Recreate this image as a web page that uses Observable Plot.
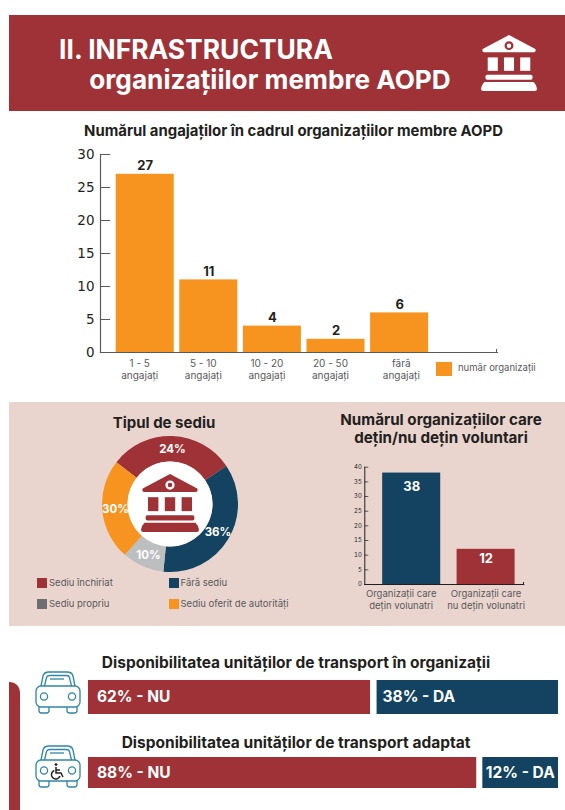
<!DOCTYPE html>
<html lang="ro">
<head>
<meta charset="utf-8">
<script src="https://cdn.jsdelivr.net/npm/d3@7"></script>
<script src="https://cdn.jsdelivr.net/npm/@observablehq/plot@0.6"></script>
<style>
html,body{margin:0;padding:0;background:#fff}
#page{position:relative;width:565px;height:810px;overflow:hidden;font-family:Inter,"Liberation Sans",sans-serif;color:#231f20}
.abs{position:absolute}
.t{position:absolute;white-space:nowrap;font-weight:700;transform:translate(-50%,-50%);line-height:1}
.leg{position:absolute;white-space:nowrap;font-size:9.5px;color:#58595b;transform:translateY(-50%);line-height:1}
.sw{position:absolute}
</style>
</head>
<body>
<div id="page">
  <svg width="0" height="0" style="position:absolute">
    <symbol id="bank" viewBox="0 0 100 100">
      <path fill-rule="evenodd" d="M50 0 L97 25 Q99 30 95 31 L5 31 Q1 30 3 25 Z M50 11 A8 8 0 1 0 50 27 A8 8 0 1 0 50 11 Z M50 15 A4 4 0 1 1 50 23 A4 4 0 1 1 50 15 Z"/>
      <rect x="12" y="40" width="18" height="24"/><rect x="41" y="40" width="18" height="24"/><rect x="70" y="40" width="18" height="24"/>
      <rect x="8" y="71" width="84" height="9" rx="3"/>
      <path d="M6 84 H94 Q100 90 100 96 Q100 100 96 100 H4 Q0 100 0 96 Q0 90 6 84 Z"/>
    </symbol>
    <symbol id="car" viewBox="0 0 46 43">
      <g fill="none" stroke="#2f86a6" stroke-width="1.3">
        <path d="M6 15 L8 5 Q9 1 14 1 L32 1 Q37 1 38 5 L40 15"/>
        <path d="M9.5 15 L11.5 6.5 Q12 4.5 14.5 4.5 L31.5 4.5 Q34 4.5 34.5 6.5 L36.5 15"/>
        <path d="M15 8 H29"/>
        <rect x="1" y="15" width="44" height="21" rx="5"/>
        <circle cx="9" cy="25.5" r="3.6"/><circle cx="37" cy="25.5" r="3.6"/>
        <path d="M4 36 V39.5 Q4 42 6.5 42 H11.5 Q14 42 14 39.5 V36"/>
        <path d="M32 36 V39.5 Q32 42 34.5 42 H39.5 Q42 42 42 39.5 V36"/>
      </g>
    </symbol>
  </svg>

  <div class="abs" style="left:9px;top:15px;width:556px;height:96px;background:#9e3237"></div>
  <div class="t" style="left:196px;top:49px;font-size:26.4px;color:#fff">II. INFRASTRUCTURA</div>
  <div class="t" style="left:270px;top:80px;font-size:26.2px;color:#fff">organizațiilor membre AOPD</div>
  <svg class="abs" style="left:481px;top:35px;fill:#fff" width="56" height="56"><use href="#bank"/></svg>

  <div class="t" style="left:293.5px;top:131px;font-size:14.9px">Numărul angajaților în cadrul organizațiilor membre AOPD</div>

  <div class="abs" style="left:9px;top:402px;width:556px;height:224px;background:#ead5ce"></div>
  <div class="t" style="left:164px;top:422px;font-size:15px">Tipul de sediu</div>
  <div class="t" style="left:441px;top:420px;font-size:15.2px">Numărul organizațiilor care</div>
  <div class="t" style="left:441px;top:438px;font-size:15.2px">dețin/nu dețin voluntari</div>

  <div class="t" style="left:296px;top:663px;font-size:15.5px">Disponibilitatea unităților de transport în organizații</div>
  <div class="t" style="left:296px;top:743px;font-size:15.5px">Disponibilitatea unităților de transport adaptat</div>

  <div class="abs" style="left:9px;top:682px;width:11px;height:128px;background:#9e3237;border-top-right-radius:10px"></div>
  <svg class="abs" style="left:35px;top:671px" width="46" height="43"><use href="#car"/></svg>
  <svg class="abs" style="left:35px;top:745px" width="46" height="43"><use href="#car"/>
    <g fill="none" stroke="#231f20" stroke-width="1.5" transform="translate(16,18)">
      <circle cx="5" cy="1.6" r="1.4" fill="#231f20" stroke="none"/>
      <path d="M5 4 V10 H10 L12 14"/><path d="M5 7 H9"/>
      <path d="M3.3 7.5 A4.4 4.4 0 1 0 9 13"/>
    </g>
  </svg>
</div>
<script>
// ---- data ----
const employeeCategories = ["1 - 5\nangajați", "5 - 10\nangajați", "10 - 20\nangajați", "20 - 50\nangajați", "fără\nangajați"];
const employeeCounts = [27, 11, 4, 2, 6];
const employeeTicks = [0, 5, 10, 15, 20, 25, 30];

const officeTypes = ["Sediu închiriat", "Fără sediu", "Sediu propriu", "Sediu oferit de autorități"];
const officeSweep = [30, 36, 10, 24];            // drawn size of each slice
const officeLabels = ["24%", "36%", "10%", "30%"]; // printed on each slice
const officeColors = ["#9e3237", "#134361", "#bcbec0", "#f7941f"];
const officeLegendColors = ["#9e3237", "#134361", "#6d6e71", "#f7941f"];

const volunteerCategories = ["Organizații care\ndețin volunatri", "Organizații care\nnu dețin volunatri"];
const volunteerCounts = [38, 12];
const volunteerTicks = [0, 5, 10, 15, 20, 25, 30, 35, 40];
const volunteerColors = ["#134361", "#9e3237"];

const transportLabels = [["62% - NU", "38% - DA"], ["88% - NU", "12% - DA"]];
const transportDrawnNo = [60, 82.6];     // drawn end of the NU bar
const transportDrawnYes = [61.4, 83.9];  // drawn start of the DA bar

// ---- helpers ----
const page = document.getElementById("page");
const ink = "#231f20", soft = "#58595b", axisInk = "#58595b", font = "Inter, 'Liberation Sans', sans-serif";
function place(svg, left, top) {
  svg.style.position = "absolute";
  svg.style.left = left + "px";
  svg.style.top = top + "px";
  svg.style.maxWidth = "none";
  page.appendChild(svg);
}
const base = {style: {background: "transparent", fontFamily: font, overflow: "visible"}};

// ---- chart 1 ----
const emp = employeeCategories.map((c, i) => ({c, v: employeeCounts[i]}));
place(Plot.plot({
  ...base, width: 565, height: 270,
  marginTop: 24, marginBottom: 48, marginLeft: 100, marginRight: 68,
  x: {domain: employeeCategories, range: [112.9, 430.9], paddingInner: 0.088, paddingOuter: 0.044, round: false, axis: null},
  y: {domain: [0, 30], axis: null},
  marks: [
    Plot.barY(emp, {x: "c", y: "v", fill: "#f7941f"}),
    Plot.axisY({ticks: employeeTicks, tickSize: -10, tickPadding: 16, stroke: axisInk, fontSize: 13.5, fontFamily: "DejaVu Sans", fill: ink, label: null}),
    Plot.frame({anchor: "left", stroke: axisInk, strokeWidth: 1.2}),
    Plot.frame({anchor: "bottom", stroke: axisInk, strokeWidth: 1.2}),
    Plot.text(emp, {x: "c", y: "v", text: d => String(d.v), dy: -8, fontSize: 13, fontWeight: 700, fill: ink}),
    Plot.text(emp.slice(0, 4), {x: "c", y: () => 0, text: "c", dx: -5.5, dy: 17, fontSize: 10, lineHeight: 1.2, fill: soft}),
    Plot.text(emp.slice(4), {x: "c", y: () => 0, text: "c", dx: 1.7, dy: 17, fontSize: 10, lineHeight: 1.2, fill: soft})
  ]
}), 0, 130);
const swatch = (l, t, w, h, c) => { const s = document.createElement("div"); s.className = "sw"; s.style.cssText = `left:${l}px;top:${t}px;width:${w}px;height:${h}px;background:${c}`; page.appendChild(s); };
const legend = (l, t, txt) => { const s = document.createElement("div"); s.className = "leg"; s.style.left = l + "px"; s.style.top = t + "px"; s.textContent = txt; page.appendChild(s); };
swatch(436, 362, 16, 14, "#f7941f");
legend(458, 368, "număr organizații");
swatch(496, 349, 1.3, 3, axisInk);

// ---- donut ----
const outerR = 68, innerR = 42.5, labelR = 55.25;
const startAngle = -52 * Math.PI / 180;
const arcs = d3.pie().sort(null).startAngle(startAngle).endAngle(startAngle + 2 * Math.PI)(officeSweep);
const slices = arcs.map((a, i) => {
  const mid = (a.startAngle + a.endAngle) / 2;
  return {name: officeTypes[i], label: officeLabels[i], a, lx: labelR * Math.sin(mid), ly: labelR * Math.cos(mid)};
});
place(Plot.plot({
  ...base, width: 140, height: 140, margin: 0,
  x: {domain: [-70, 70], range: [0, 140], axis: null},
  y: {domain: [-70, 70], range: [140, 0], axis: null},
  color: {domain: officeTypes, range: officeColors},
  marks: [
    Plot.dot(slices, {
      x: () => 0, y: () => 0, fill: "name", r: outerR,
      render(index, scales, values) {
        const unit = scales.x(1) - scales.x(0);
        const g = d3.create("svg:g");
        for (const i of index) {
          g.append("path")
            .attr("transform", `translate(${values.x[i]},${values.y[i]})`)
            .attr("fill", values.fill[i])
            .attr("d", d3.arc().innerRadius(innerR * unit).outerRadius(outerR * unit)(slices[i].a));
        }
        g.append("circle").attr("cx", scales.x(0)).attr("cy", scales.y(0)).attr("r", innerR * unit).attr("fill", "#fff");
        return g.node();
      }
    }),
    Plot.text(slices, {x: "lx", y: "ly", text: "label", fontSize: 11.5, fontWeight: 700, fill: "#fff"})
  ]
}), 100, 434);
const bankIcon = document.createElementNS("http://www.w3.org/2000/svg", "svg");
bankIcon.setAttribute("class", "abs");
bankIcon.setAttribute("width", 58); bankIcon.setAttribute("height", 58);
bankIcon.style.cssText = "left:141px;top:474px;fill:#9e3237";
bankIcon.innerHTML = '<use href="#bank"/>';
page.appendChild(bankIcon);
const legendSpots = [[37, 49, 582.7], [169, 180.5, 582.7], [37, 49, 603.7], [169, 180.5, 603.7]];
officeTypes.forEach((t, i) => {
  const [sx, tx, y] = legendSpots[i];
  swatch(sx, y - 4.7, 9.5, 9.5, officeLegendColors[i]);
  legend(tx, y, t);
});

// ---- chart 2 ----
const vol = volunteerCategories.map((c, i) => ({c, v: volunteerCounts[i]}));
place(Plot.plot({
  ...base, width: 205, height: 160,
  marginTop: 6.7, marginBottom: 36, marginLeft: 44.3, marginRight: 1.7,
  x: {domain: volunteerCategories, range: [54, 202.8], paddingInner: 0.22, paddingOuter: 0.11, round: false, axis: null},
  y: {domain: [0, 40], axis: null},
  color: {domain: volunteerCategories, range: volunteerColors},
  marks: [
    Plot.barY(vol, {x: "c", y: "v", fill: "c"}),
    Plot.axisY({ticks: volunteerTicks, tickSize: -4, tickPadding: 7, stroke: axisInk, fontSize: 6, fill: ink, label: null}),
    Plot.frame({anchor: "left", stroke: ink, strokeWidth: 1}),
    Plot.frame({anchor: "bottom", stroke: ink, strokeWidth: 1}),
    Plot.text(vol.slice(0, 1), {x: "c", y: "v", text: d => String(d.v), dy: 14, fontSize: 13, fontWeight: 700, fill: "#fff"}),
    Plot.text(vol.slice(1), {x: "c", y: "v", text: d => String(d.v), dy: 10, fontSize: 13, fontWeight: 700, fill: "#fff"}),
    Plot.text(vol.slice(0, 1), {x: "c", y: () => 0, text: "c", dx: -10.5, dy: 15, fontSize: 9.5, lineHeight: 1.2, fill: soft}),
    Plot.text(vol.slice(1), {x: "c", y: () => 0, text: "c", dy: 15, fontSize: 9.5, lineHeight: 1.2, fill: soft})
  ]
}), 320, 460);
swatch(523, 582, 1, 2, ink);

// ---- transport bars ----
const tops = [680, 757], heights = [34, 31];
const labelInsets = [[8.5, 5.5], [8.5, 3]];
transportLabels.forEach((labels, r) => {
  const parts = [
    {label: labels[0], x1: 0, x2: transportDrawnNo[r], kind: "NU"},
    {label: labels[1], x1: transportDrawnYes[r], x2: 100, kind: "DA"}
  ];
  place(Plot.plot({
    ...base, width: 565, height: heights[r],
    marginTop: 0, marginBottom: 0, marginLeft: 88, marginRight: 7,
    x: {domain: [0, 100], axis: null},
    color: {domain: ["NU", "DA"], range: ["#9e3237", "#134361"]},
    marks: [
      Plot.rectX(parts, {x1: "x1", x2: "x2", fill: "kind"}),
      ...parts.map((p, k) => Plot.text([p], {x: "x1", text: "label", frameAnchor: "middle", textAnchor: "start", dx: labelInsets[r][k], fontSize: 15.5, fontWeight: 700, fill: "#fff"}))
    ]
  }), 0, tops[r]);
});
</script>
</body>
</html>
